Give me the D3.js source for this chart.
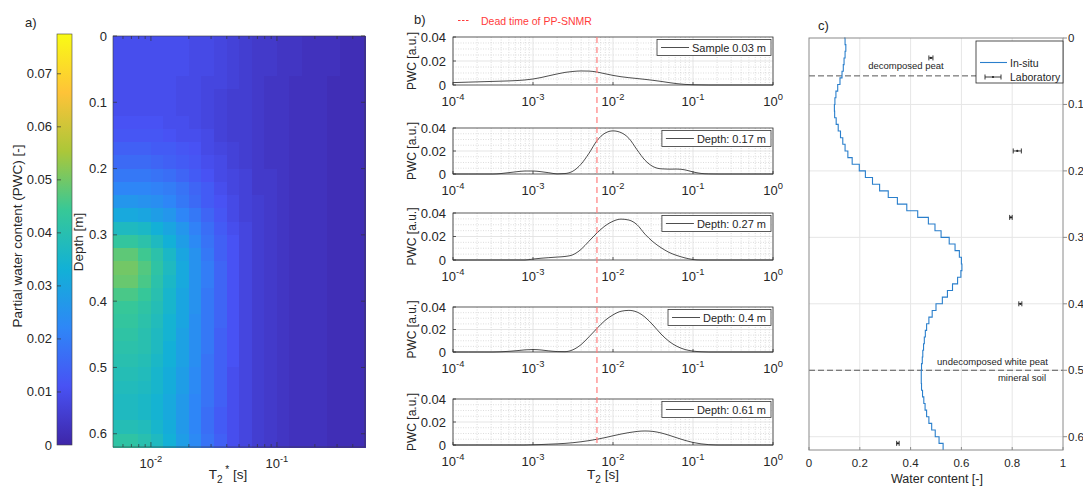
<!DOCTYPE html>
<html>
<head>
<meta charset="utf-8">
<script src="https://d3js.org/d3.v7.min.js"></script>
<style>
  body { margin: 0; background: #fff; }
  svg { display: block; font-family: "Liberation Sans", Arial, Helvetica, sans-serif; }
</style>
</head>
<body>
<script>
// ---------------- data ----------------
// panel a: T2* bin centres [s], depth rows [m], PWC x 1000
var heatT2 = [0.00562, 0.00708, 0.00891, 0.0112, 0.0141, 0.0178, 0.0224, 0.0282, 0.0355, 0.0447,
              0.0562, 0.0708, 0.0891, 0.112, 0.141, 0.178, 0.224, 0.282, 0.355, 0.447];
var heatDepth = [0, 0.02, 0.04, 0.06, 0.08, 0.10, 0.12, 0.14, 0.16, 0.18, 0.20,
                 0.22, 0.24, 0.26, 0.28, 0.30, 0.32, 0.34, 0.36, 0.38, 0.40,
                 0.42, 0.44, 0.46, 0.48, 0.50, 0.52, 0.54, 0.56, 0.58, 0.60];
var pwcGridE3 = [
  [10,10,10,10,10,10, 9, 9, 8, 7, 6, 5, 5, 4, 4, 3, 3, 3, 2, 2],
  [10,10,10,10,10,10, 9, 9, 8, 7, 6, 5, 5, 4, 4, 3, 3, 3, 2, 2],
  [10,10,10,10,10,10, 9, 9, 8, 7, 6, 5, 5, 4, 4, 3, 3, 3, 2, 2],
  [10,10,10,10,10, 9, 9, 8, 8, 7, 6, 5, 4, 4, 3, 3, 3, 2, 2, 2],
  [10,10,10,10,10, 9, 9, 8, 7, 6, 6, 5, 4, 4, 3, 3, 3, 2, 2, 2],
  [10,10,10,10,10, 9, 9, 8, 7, 6, 6, 5, 4, 4, 3, 3, 3, 2, 2, 2],
  [11,11,11,11,10,10, 9, 8, 7, 6, 6, 5, 4, 4, 3, 3, 3, 2, 2, 2],
  [12,12,12,12,11,10,10, 9, 7, 6, 6, 5, 4, 4, 3, 3, 3, 2, 2, 2],
  [14,14,14,13,13,12,11, 9, 8, 7, 6, 5, 4, 4, 3, 3, 3, 2, 2, 2],
  [16,16,16,15,14,13,12,10, 9, 7, 6, 5, 4, 4, 3, 3, 3, 2, 2, 2],
  [19,19,19,18,17,15,13,11, 9, 8, 7, 5, 5, 4, 3, 3, 3, 2, 2, 2],
  [22,22,22,21,20,18,15,13,10, 8, 7, 5, 5, 4, 3, 3, 3, 2, 2, 2],
  [26,26,25,24,22,19,16,13,11, 9, 7, 6, 5, 4, 3, 3, 3, 2, 2, 2],
  [31,31,30,28,26,22,19,15,12, 9, 7, 6, 5, 4, 3, 3, 3, 2, 2, 2],
  [37,37,36,33,30,26,21,17,13,10, 8, 6, 5, 4, 3, 3, 3, 2, 2, 2],
  [43,43,41,37,33,28,23,18,14,11, 8, 6, 5, 4, 3, 3, 3, 2, 2, 2],
  [48,48,45,41,36,30,25,19,14,11, 8, 6, 5, 4, 3, 3, 3, 2, 2, 2],
  [50,50,47,42,37,31,25,20,15,11, 8, 6, 5, 4, 3, 3, 3, 2, 2, 2],
  [49,49,46,41,36,31,25,20,15,11, 8, 6, 5, 4, 3, 3, 3, 2, 2, 2],
  [46,46,44,40,35,30,25,19,15,11, 8, 6, 5, 4, 3, 3, 3, 2, 2, 2],
  [44,44,42,39,35,30,25,19,15,11, 8, 6, 5, 4, 3, 3, 3, 2, 2, 2],
  [43,43,41,38,34,30,24,19,15,11, 8, 6, 5, 4, 3, 3, 3, 2, 2, 2],
  [42,42,40,37,34,29,24,19,14,11, 8, 6, 5, 4, 3, 3, 3, 2, 2, 2],
  [41,41,40,37,33,29,24,19,14,11, 8, 6, 5, 4, 3, 3, 3, 2, 2, 2],
  [40,40,39,36,33,29,24,18,14,11, 8, 6, 5, 4, 3, 3, 3, 2, 2, 2],
  [39,39,38,35,32,28,23,18,14,10, 8, 6, 5, 4, 3, 3, 3, 2, 2, 2],
  [38,38,37,35,32,28,23,18,14,10, 8, 6, 5, 4, 3, 3, 3, 2, 2, 2],
  [37,37,36,34,31,27,22,18,14,10, 8, 6, 5, 4, 3, 3, 3, 2, 2, 2],
  [37,37,36,34,31,27,22,17,13,10, 8, 6, 5, 4, 3, 3, 3, 2, 2, 2],
  [39,39,38,35,32,27,22,17,13,10, 8, 6, 5, 4, 3, 3, 3, 2, 2, 2],
  [42,42,40,37,33,28,23,18,14,10, 8, 6, 5, 4, 3, 3, 3, 2, 2, 2]
];
var colourTicks = [0, 0.01, 0.02, 0.03, 0.04, 0.05, 0.06, 0.07];
var depthTicks = [0, 0.1, 0.2, 0.3, 0.4, 0.5, 0.6];

// panel b: T2 samples [s] and PWC distributions
var t2Values = [1.00e-4, 1.26e-4, 1.58e-4, 2.00e-4, 2.51e-4, 3.16e-4, 3.98e-4, 5.01e-4, 6.31e-4, 7.94e-4,
                1.00e-3, 1.26e-3, 1.58e-3, 2.00e-3, 2.51e-3, 3.16e-3, 3.98e-3, 5.01e-3, 6.31e-3, 7.94e-3,
                1.00e-2, 1.26e-2, 1.58e-2, 2.00e-2, 2.51e-2, 3.16e-2, 3.98e-2, 5.01e-2, 6.31e-2, 7.94e-2,
                0.100, 0.126, 0.158, 0.200, 0.251, 0.316, 0.398, 0.501, 0.631, 0.794, 1.0];
var sample003 = [.0020,.0022,.0024,.0026,.0028,.0030,.0032,.0034,.0037,.0042,
                 .0050,.0062,.0077,.0092,.0105,.0113,.0117,.0116,.0108,.0094,
                 .0080,.0069,.0061,.0054,.0047,.0039,.0030,.0020,.0011,.0005,
                 .0002,.0001,0,0,0,0,0,0,0,0,0];
var depth017 = [0,0,0,0,0,0,.0004,.0012,.0020,.0026,
                .0026,.0020,.0011,.0001,.0004,.0025,.0085,.0180,.0290,.0355,
                .0375,.0360,.0310,.0210,.0120,.0065,.0045,.0042,.0043,.0036,
                .0018,.0005,.0001,0,0,0,0,0,0,0,0];
var depth027 = [0,0,0,0,0,0,0,0,0,0,
                .0008,.0015,.0020,.0025,.0030,.0045,.0090,.0160,.0230,.0290,
                .0330,.0348,.0340,.0300,.0220,.0155,.0105,.0065,.0038,.0018,
                .0004,0,0,0,0,0,0,0,0,0,0];
var depth040 = [0,0,0,0,0,0,.0002,.0006,.0012,.0019,
                .0022,.0018,.0010,.0004,.0003,.0020,.0065,.0135,.0210,.0280,
                .0330,.0362,.0370,.0355,.0310,.0240,.0160,.0095,.0050,.0022,
                .0008,.0002,0,0,0,0,0,0,0,0,0];
var depth061 = [0,0,0,0,0,0,0,0,0,0,
                .0002,.0004,.0007,.0010,.0014,.0020,.0028,.0038,.0050,.0064,
                .0080,.0095,.0108,.0118,.0122,.0118,.0105,.0085,.0062,.0040,
                .0022,.0010,.0003,0,0,0,0,0,0,0,0];
var pwcSeries = [sample003, depth017, depth027, depth040, depth061];
var seriesLabels = ["Sample 0.03 m", "Depth: 0.17 m", "Depth: 0.27 m", "Depth: 0.4 m", "Depth: 0.61 m"];
var deadTime = 0.0063;
var pwcTicks = [0, 0.02, 0.04];
var t2Exponents = ["-4", "-3", "-2", "-1", "0"];

// panel c: in-situ water content profile and laboratory samples
var insituDepth = [0.00,0.01,0.02,0.03,0.04,0.05,0.06,0.07,0.08,0.09,
                   0.10,0.11,0.12,0.13,0.14,0.15,0.16,0.17,0.18,0.19,
                   0.20,0.21,0.22,0.23,0.24,0.25,0.26,0.27,0.28,0.29,
                   0.30,0.31,0.32,0.33,0.34,0.35,0.36,0.37,0.38,0.39,
                   0.40,0.41,0.42,0.43,0.44,0.45,0.46,0.47,0.48,0.49,
                   0.50,0.51,0.52,0.53,0.54,0.55,0.56,0.57,0.58,0.59,
                   0.60,0.61,0.62];
var insituWater = [0.138,0.142,0.145,0.142,0.138,0.135,0.130,0.122,0.113,0.106,
                   0.102,0.100,0.101,0.107,0.115,0.124,0.133,0.142,0.153,0.170,
                   0.198,0.222,0.250,0.278,0.312,0.348,0.385,0.428,0.470,0.496,
                   0.520,0.552,0.575,0.592,0.600,0.602,0.598,0.585,0.565,0.545,
                   0.525,0.500,0.485,0.472,0.463,0.458,0.454,0.451,0.448,0.446,
                   0.443,0.442,0.442,0.443,0.447,0.452,0.457,0.463,0.472,0.483,
                   0.497,0.512,0.528];
var labDepth = [0.03, 0.17, 0.27, 0.40, 0.61];
var labWater = [0.48, 0.82, 0.795, 0.832, 0.35];
var labError = [0.008, 0.016, 0.005, 0.006, 0.005];
var layerDepths = [0.057, 0.5];
var waterTicks = [0, 0.2, 0.4, 0.6, 0.8, 1];

var parula = ["#3E26A8", "#4852F4", "#2E87F7", "#12B1D6", "#37C897", "#ABC739", "#FEC338", "#F9FB15"];
var pwcMax = 0.0775;

// ---------------- svg ----------------
var svg = d3.select("body").append("svg")
    .attr("width", 1083)
    .attr("height", 486);

var frameColour = "#333";

function powerLabel(sel, exp) {
    sel.append("tspan").text("10");
    sel.append("tspan").attr("dy", -6).attr("font-size", "0.72em").text(exp);
}

/* ======== panel a ======== */
var ax = d3.scaleLog().domain([0.005, 0.5]).range([113, 365]);
var ay = d3.scaleLinear().domain([0, 0.62]).range([36, 447]);
var colour = d3.scaleLinear()
    .domain(parula.map(function(c, i) { return pwcMax * i / (parula.length - 1); }))
    .range(parula)
    .clamp(true);

var t2Edges = [0.005].concat(d3.pairs(heatT2).map(function(p) { return Math.sqrt(p[0] * p[1]); }), [0.5]);
var depthEdges = heatDepth.concat([0.62]);

var cells = [];
pwcGridE3.forEach(function(row, r) {
    row.forEach(function(v, c) { cells.push({ r: r, c: c, v: v / 1000 }); });
});

svg.append("g").selectAll("rect")
    .data(cells)
    .enter()
    .append("rect")
    .attr("x", function(d) { return ax(t2Edges[d.c]); })
    .attr("y", function(d) { return ay(depthEdges[d.r]); })
    .attr("width", function(d) { return ax(t2Edges[d.c + 1]) - ax(t2Edges[d.c]) + 0.5; })
    .attr("height", function(d) { return ay(depthEdges[d.r + 1]) - ay(depthEdges[d.r]) + 0.5; })
    .attr("fill", function(d) { return colour(d.v); })
    .attr("shape-rendering", "crispEdges");

svg.append("rect")
    .attr("x", 113).attr("y", 36).attr("width", 252).attr("height", 411)
    .attr("fill", "none").attr("stroke", "#3a3a3a").attr("stroke-width", 0.6);

// heatmap ticks
var aMinor = ax.ticks().filter(function(t) { return t > 0.005 && t < 0.5; });
svg.append("g").selectAll("line")
    .data(aMinor)
    .enter()
    .append("line")
    .attr("x1", function(d) { return ax(d); })
    .attr("x2", function(d) { return ax(d); })
    .attr("y1", 447)
    .attr("y2", function(d) { return (d === 0.01 || d === 0.1) ? 442 : 444; })
    .attr("stroke", "#333").attr("stroke-width", 0.7);
svg.append("g").selectAll("line")
    .data(aMinor)
    .enter()
    .append("line")
    .attr("x1", function(d) { return ax(d); })
    .attr("x2", function(d) { return ax(d); })
    .attr("y1", 36)
    .attr("y2", function(d) { return (d === 0.01 || d === 0.1) ? 41 : 39; })
    .attr("stroke", "#333").attr("stroke-width", 0.7);

[0.01, 0.1].forEach(function(t, i) {
    var lab = svg.append("text")
        .attr("x", ax(t)).attr("y", 468)
        .attr("text-anchor", "middle")
        .attr("font-size", 13).attr("fill", "#262626");
    powerLabel(lab, i === 0 ? "-2" : "-1");
});

svg.append("g").selectAll("line")
    .data(depthTicks)
    .enter()
    .append("line")
    .attr("x1", 113).attr("x2", 117)
    .attr("y1", function(d) { return ay(d); })
    .attr("y2", function(d) { return ay(d); })
    .attr("stroke", "#333").attr("stroke-width", 0.7);
svg.append("g").selectAll("line")
    .data(depthTicks)
    .enter()
    .append("line")
    .attr("x1", 365).attr("x2", 361)
    .attr("y1", function(d) { return ay(d); })
    .attr("y2", function(d) { return ay(d); })
    .attr("stroke", "#333").attr("stroke-width", 0.7);

svg.append("g").selectAll("text")
    .data(depthTicks)
    .enter()
    .append("text")
    .attr("x", 107)
    .attr("y", function(d) { return ay(d) + 4.5; })
    .attr("text-anchor", "end")
    .attr("font-size", 13).attr("fill", "#262626")
    .text(function(d) { return d; });

svg.append("text")
    .attr("transform", "translate(83,242) rotate(-90)")
    .attr("text-anchor", "middle")
    .attr("font-size", 13.5).attr("fill", "#262626")
    .text("Depth [m]");

var t2sLabel = svg.append("text")
    .attr("x", 228).attr("y", 479)
    .attr("text-anchor", "middle")
    .attr("font-size", 13.5).attr("fill", "#262626");
t2sLabel.append("tspan").text("T");
t2sLabel.append("tspan").attr("dy", 4).attr("font-size", "0.75em").text("2");
t2sLabel.append("tspan").attr("dy", -10).attr("font-size", "0.75em").text("  *");
t2sLabel.append("tspan").attr("dy", 6).text(" [s]");

// colourbar
var cy = d3.scaleLinear().domain([0, pwcMax]).range([445, 34]);
var grad = svg.append("defs").append("linearGradient")
    .attr("id", "parulaGrad")
    .attr("x1", 0).attr("y1", 1).attr("x2", 0).attr("y2", 0);
grad.selectAll("stop")
    .data(parula)
    .enter()
    .append("stop")
    .attr("offset", function(d, i) { return i / (parula.length - 1); })
    .attr("stop-color", function(d) { return d; });
svg.append("rect")
    .attr("x", 57).attr("y", 34).attr("width", 15).attr("height", 411)
    .attr("fill", "url(#parulaGrad)")
    .attr("stroke", "#444").attr("stroke-width", 0.6);
svg.append("g").selectAll("line")
    .data(colourTicks.slice(1))
    .enter()
    .append("line")
    .attr("x1", 57).attr("x2", 61)
    .attr("y1", function(d) { return cy(d); })
    .attr("y2", function(d) { return cy(d); })
    .attr("stroke", "#333").attr("stroke-width", 0.7);
svg.append("g").selectAll("text")
    .data(colourTicks)
    .enter()
    .append("text")
    .attr("x", 52)
    .attr("y", function(d) { return cy(d) + 4.5; })
    .attr("text-anchor", "end")
    .attr("font-size", 13).attr("fill", "#262626")
    .text(function(d) { return d; });
svg.append("text")
    .attr("transform", "translate(22,236) rotate(-90)")
    .attr("text-anchor", "middle")
    .attr("font-size", 13.5).attr("fill", "#262626")
    .text("Partial water content (PWC) [-]");

svg.append("text").attr("x", 25).attr("y", 27).attr("font-size", 13).attr("fill", "#262626").text("a)");

/* ======== panel b ======== */
var bx = d3.scaleLog().domain([1e-4, 1]).range([453, 773]);
var subTops = [37, 128, 213, 307, 399];
var subBottoms = [85, 174, 260, 352, 445];
var decades = bx.ticks().filter(function(t) { return Math.abs(Math.log10(t) - Math.round(Math.log10(t))) < 1e-6; });
var minors = bx.ticks().filter(function(t) { return decades.indexOf(t) < 0; });
var yMinor = [0.005, 0.01, 0.015, 0.025, 0.03, 0.035];

subTops.forEach(function(top, i) {
    var bottom = subBottoms[i];
    var y = d3.scaleLinear().domain([0, 0.04]).range([bottom, top]);
    var g = svg.append("g");

    g.append("rect").attr("x", 453).attr("y", top).attr("width", 320).attr("height", bottom - top).attr("fill", "#fff");

    g.selectAll(".xminor").data(minors).enter().append("line")
        .attr("x1", function(d) { return bx(d); }).attr("x2", function(d) { return bx(d); })
        .attr("y1", top).attr("y2", bottom)
        .attr("stroke", "#c8c8c8").attr("stroke-width", 0.6).attr("stroke-dasharray", "1,1.5");
    g.selectAll(".yminor").data(yMinor).enter().append("line")
        .attr("x1", 453).attr("x2", 773)
        .attr("y1", function(d) { return y(d); }).attr("y2", function(d) { return y(d); })
        .attr("stroke", "#c8c8c8").attr("stroke-width", 0.6).attr("stroke-dasharray", "1,1.5");
    g.selectAll(".xmajor").data(decades).enter().append("line")
        .attr("x1", function(d) { return bx(d); }).attr("x2", function(d) { return bx(d); })
        .attr("y1", top).attr("y2", bottom)
        .attr("stroke", "#dedede").attr("stroke-width", 0.8);
    g.append("line")
        .attr("x1", 453).attr("x2", 773).attr("y1", y(0.02)).attr("y2", y(0.02))
        .attr("stroke", "#dedede").attr("stroke-width", 0.8);

    var line = d3.line()
        .x(function(d, j) { return bx(t2Values[j]); })
        .y(function(d) { return y(d); })
        .curve(d3.curveMonotoneX);
    g.append("path")
        .datum(pwcSeries[i])
        .attr("d", line)
        .attr("fill", "none")
        .attr("stroke", "#3a3a3a")
        .attr("stroke-width", 0.9);

    g.append("rect").attr("x", 453).attr("y", top).attr("width", 320).attr("height", bottom - top)
        .attr("fill", "none").attr("stroke", frameColour).attr("stroke-width", 0.8);

    // inward ticks
    g.selectAll(".xt").data(decades).enter().append("line")
        .attr("x1", function(d) { return bx(d); }).attr("x2", function(d) { return bx(d); })
        .attr("y1", bottom).attr("y2", bottom - 3)
        .attr("stroke", frameColour).attr("stroke-width", 0.8);
    g.selectAll(".yt").data(pwcTicks).enter().append("line")
        .attr("x1", 453).attr("x2", 456)
        .attr("y1", function(d) { return y(d); }).attr("y2", function(d) { return y(d); })
        .attr("stroke", frameColour).attr("stroke-width", 0.8);

    g.selectAll(".ylab").data(pwcTicks).enter().append("text")
        .attr("x", 446)
        .attr("y", function(d) { return y(d) + 4.5; })
        .attr("text-anchor", "end")
        .attr("font-size", 13).attr("fill", "#262626")
        .text(function(d) { return d; });

    decades.forEach(function(t, k) {
        var lab = g.append("text")
            .attr("x", bx(t)).attr("y", bottom + 21)
            .attr("text-anchor", "middle")
            .attr("font-size", 13).attr("fill", "#262626");
        powerLabel(lab, t2Exponents[k]);
    });

    g.append("text")
        .attr("transform", "translate(416," + ((top + bottom) / 2) + ") rotate(-90)")
        .attr("text-anchor", "middle")
        .attr("font-size", 12).attr("fill", "#262626")
        .text("PWC [a.u.]");

    // legend
    var lg = g.append("g");
    var box = lg.append("rect");
    var sw = lg.append("line");
    var txt = lg.append("text").attr("font-size", 11).attr("fill", "#262626").text(seriesLabels[i]);
    var tw = txt.node().getComputedTextLength();
    var bw = 36 + tw + 4;
    var left = 771 - bw;
    var mid = top + 10.5;
    box.attr("x", left).attr("y", top + 2.5).attr("width", bw).attr("height", 16)
        .attr("fill", "#fff").attr("stroke", frameColour).attr("stroke-width", 0.8);
    sw.attr("x1", left + 4).attr("x2", left + 32).attr("y1", mid).attr("y2", mid)
        .attr("stroke", "#3a3a3a").attr("stroke-width", 0.9);
    txt.attr("x", left + 35).attr("y", mid + 4);
});

svg.append("line")
    .attr("x1", bx(deadTime)).attr("x2", bx(deadTime))
    .attr("y1", 37).attr("y2", 445)
    .attr("stroke", "#ff7f7f").attr("stroke-width", 1.2)
    .attr("stroke-dasharray", "6,4");

var t2Label = svg.append("text")
    .attr("x", 603).attr("y", 479)
    .attr("text-anchor", "middle")
    .attr("font-size", 13.5).attr("fill", "#262626");
t2Label.append("tspan").text("T");
t2Label.append("tspan").attr("dy", 4).attr("font-size", "0.75em").text("2");
t2Label.append("tspan").attr("dy", -4).text(" [s]");

svg.append("text").attr("x", 414).attr("y", 24).attr("font-size", 13).attr("fill", "#262626").text("b)");
svg.append("line")
    .attr("x1", 458).attr("x2", 469).attr("y1", 20.5).attr("y2", 20.5)
    .attr("stroke", "#ff3b3b").attr("stroke-width", 1).attr("stroke-dasharray", "2.5,1.5");
svg.append("text").attr("x", 481).attr("y", 24.5)
    .attr("font-size", 10.5).attr("fill", "#ff3b3b")
    .text("Dead time of PP-SNMR");

/* ======== panel c ======== */
var cxs = d3.scaleLinear().domain([0, 1]).range([809, 1063]);
var cys = d3.scaleLinear().domain([0, 0.62]).range([38, 450]);
var cGrid = "#e6e6e6";

svg.append("g").selectAll("line")
    .data(waterTicks.slice(1, -1))
    .enter()
    .append("line")
    .attr("x1", function(d) { return cxs(d); }).attr("x2", function(d) { return cxs(d); })
    .attr("y1", 38).attr("y2", 450)
    .attr("stroke", cGrid).attr("stroke-width", 1);
svg.append("g").selectAll("line")
    .data(depthTicks.slice(1))
    .enter()
    .append("line")
    .attr("x1", 809).attr("x2", 1063)
    .attr("y1", function(d) { return cys(d); }).attr("y2", function(d) { return cys(d); })
    .attr("stroke", cGrid).attr("stroke-width", 1);

svg.append("g").selectAll("line")
    .data(layerDepths)
    .enter()
    .append("line")
    .attr("x1", 809).attr("x2", 1063)
    .attr("y1", function(d) { return cys(d); }).attr("y2", function(d) { return cys(d); })
    .attr("stroke", "#555").attr("stroke-width", 1).attr("stroke-dasharray", "6,3");

var insitu = insituDepth.map(function(d, i) { return { d: d, w: insituWater[i] }; });
var profile = d3.line()
    .x(function(d) { return cxs(d.w); })
    .y(function(d) { return cys(d.d); })
    .curve(d3.curveStepAfter);
svg.append("path")
    .datum(insitu)
    .attr("d", profile)
    .attr("fill", "none")
    .attr("stroke", "#2a7fcc")
    .attr("stroke-width", 1.1);

var labs = labDepth.map(function(d, i) { return { d: d, w: labWater[i], e: labError[i] }; });
var lab = svg.append("g").selectAll("g").data(labs).enter().append("g");
lab.append("line")
    .attr("x1", function(d) { return cxs(d.w - d.e); }).attr("x2", function(d) { return cxs(d.w + d.e); })
    .attr("y1", function(d) { return cys(d.d); }).attr("y2", function(d) { return cys(d.d); })
    .attr("stroke", "#222").attr("stroke-width", 0.9);
lab.append("line")
    .attr("x1", function(d) { return cxs(d.w - d.e); }).attr("x2", function(d) { return cxs(d.w - d.e); })
    .attr("y1", function(d) { return cys(d.d) - 2.5; }).attr("y2", function(d) { return cys(d.d) + 2.5; })
    .attr("stroke", "#222").attr("stroke-width", 0.9);
lab.append("line")
    .attr("x1", function(d) { return cxs(d.w + d.e); }).attr("x2", function(d) { return cxs(d.w + d.e); })
    .attr("y1", function(d) { return cys(d.d) - 2.5; }).attr("y2", function(d) { return cys(d.d) + 2.5; })
    .attr("stroke", "#222").attr("stroke-width", 0.9);
lab.append("circle")
    .attr("cx", function(d) { return cxs(d.w); })
    .attr("cy", function(d) { return cys(d.d); })
    .attr("r", 1.1).attr("fill", "#222");

svg.append("rect")
    .attr("x", 809).attr("y", 38).attr("width", 254).attr("height", 412)
    .attr("fill", "none").attr("stroke", "#8a8a8a").attr("stroke-width", 1);

svg.append("g").selectAll("line")
    .data(waterTicks)
    .enter()
    .append("line")
    .attr("x1", function(d) { return cxs(d); }).attr("x2", function(d) { return cxs(d); })
    .attr("y1", 450).attr("y2", 447)
    .attr("stroke", "#8a8a8a");
svg.append("g").selectAll("line")
    .data(depthTicks)
    .enter()
    .append("line")
    .attr("x1", 1063).attr("x2", 1067)
    .attr("y1", function(d) { return cys(d); }).attr("y2", function(d) { return cys(d); })
    .attr("stroke", "#8a8a8a");

svg.append("g").selectAll("text")
    .data(waterTicks)
    .enter()
    .append("text")
    .attr("x", function(d) { return cxs(d); })
    .attr("y", 467)
    .attr("text-anchor", "middle")
    .attr("font-size", 11.5).attr("fill", "#262626")
    .text(function(d) { return d; });
svg.append("g").selectAll("text")
    .data(depthTicks)
    .enter()
    .append("text")
    .attr("x", 1068)
    .attr("y", function(d) { return cys(d) + 4; })
    .attr("font-size", 11.5).attr("fill", "#262626")
    .text(function(d) { return d; });

svg.append("text")
    .attr("x", 937).attr("y", 483)
    .attr("text-anchor", "middle")
    .attr("font-size", 12.5).attr("fill", "#262626")
    .text("Water content [-]");

svg.append("text").attr("x", 906).attr("y", 69).attr("text-anchor", "middle")
    .attr("font-size", 9.5).attr("fill", "#262626").text("decomposed peat");
svg.append("text").attr("x", 1048).attr("y", 365).attr("text-anchor", "end")
    .attr("font-size", 9.5).attr("fill", "#262626").text("undecomposed white peat");
svg.append("text").attr("x", 1046).attr("y", 381).attr("text-anchor", "end")
    .attr("font-size", 9.5).attr("fill", "#262626").text("mineral soil");

// legend c
var lc = svg.append("g");
lc.append("rect").attr("x", 976).attr("y", 41).attr("width", 87).attr("height", 42)
    .attr("fill", "#fff").attr("stroke", "#262626").attr("stroke-width", 0.8);
lc.append("line").attr("x1", 980).attr("x2", 1007).attr("y1", 62.5).attr("y2", 62.5)
    .attr("stroke", "#2a7fcc").attr("stroke-width", 1.1);
lc.append("text").attr("x", 1010).attr("y", 66.5).attr("font-size", 10.5).attr("fill", "#262626").text("In-situ");
lc.append("line").attr("x1", 985).attr("x2", 1001).attr("y1", 77).attr("y2", 77).attr("stroke", "#222").attr("stroke-width", 0.9);
lc.append("line").attr("x1", 985).attr("x2", 985).attr("y1", 74.5).attr("y2", 79.5).attr("stroke", "#222").attr("stroke-width", 0.9);
lc.append("line").attr("x1", 1001).attr("x2", 1001).attr("y1", 74.5).attr("y2", 79.5).attr("stroke", "#222").attr("stroke-width", 0.9);
lc.append("circle").attr("cx", 993).attr("cy", 77).attr("r", 1.1).attr("fill", "#222");
lc.append("text").attr("x", 1010).attr("y", 81).attr("font-size", 10.5).attr("fill", "#262626").text("Laboratory");

svg.append("text").attr("x", 818).attr("y", 30).attr("font-size", 13).attr("fill", "#262626").text("c)");
</script>
</body>
</html>
